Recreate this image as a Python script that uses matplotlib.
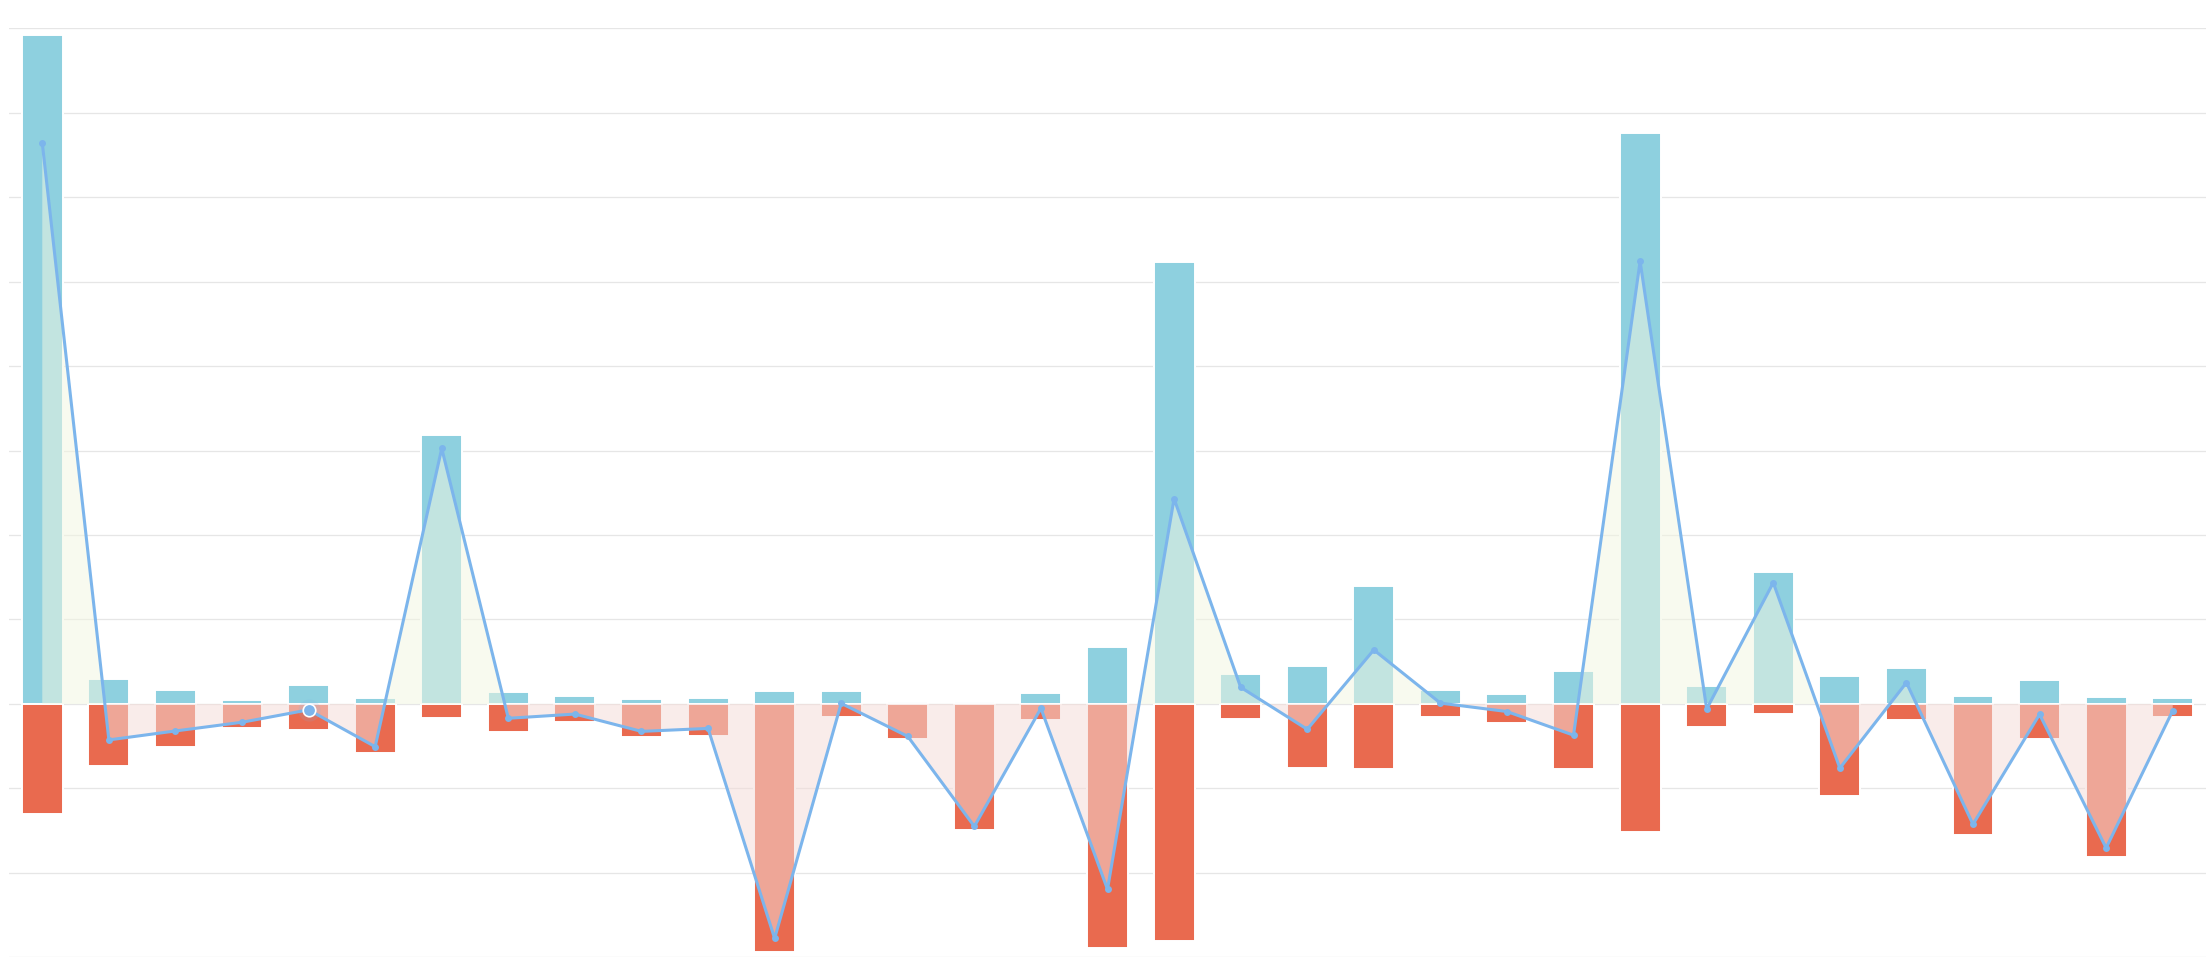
import numpy as np
import matplotlib
matplotlib.use("Agg")
from matplotlib import pyplot as plt

# values (grid step = 100)
categories = [f"P{i}" for i in range(1, 34)]
inflow = [792, 30, 17, 5, 22, 7.5, 319, 14.6, 9, 6, 7.5, 15.7, 15.7, 2.7, 2.7, 13.4,
          67.8, 523.7, 35.9, 45.4, 140, 16, 12, 38.8, 676, 21.2, 156.4, 33, 42.5,
          9.8, 28.8, 8.6, 7.5]
outflow = [-130, -73, -50.6, -28, -30.4, -58.5, -17, -33.6, -21, -39, -38, -294,
           -15.8, -42, -149.6, -19.4, -289.4, -281, -17.5, -76, -77, -16, -22, -77,
           -152, -27.5, -12.5, -109, -19.4, -154.8, -41.9, -181.6, -15.8]
net = [664, -42.6, -32, -21.7, -7, -50.6, 302.5, -17, -12, -32.5, -29, -277.6, 0.7,
       -38.4, -145, -5.2, -219.5, 243, 19.7, -30, 64, 1, -9, -37, 524, -6, 143.6,
       -76, 25.2, -142.5, -12.3, -170.5, -8]
hover_idx = 4

BLUE = '#8ed0df'
RED = '#e96a4f'
LINE = '#7cb5ec'
POS_AREA = '#f2f7e2'
NEG_AREA = '#f4dcd8'

fig = plt.figure(figsize=(22.08, 9.67), dpi=100)
ax = fig.add_axes([9 / 2208, 1 - 957.3 / 967, 2197 / 2208, 929 / 967])

x = np.arange(len(categories))
net_arr = np.array(net, dtype=float)

# grid
ax.set_yticks(np.arange(-300, 801, 100))
ax.yaxis.grid(True, color='#e6e6e6', linewidth=0.9, zorder=0)
ax.set_axisbelow(True)

# bars
ax.bar(x, inflow, width=0.615, color=BLUE, edgecolor='white', linewidth=1.4, zorder=1)
ax.bar(x, outflow, width=0.615, color=RED, edgecolor='white', linewidth=1.4, zorder=1)

# net area, split at zero
ax.fill_between(x, net_arr, 0, where=net_arr >= 0, interpolate=True,
                color=POS_AREA, alpha=0.53, linewidth=0, zorder=2)
ax.fill_between(x, net_arr, 0, where=net_arr <= 0, interpolate=True,
                color=NEG_AREA, alpha=0.53, linewidth=0, zorder=2)

# net line
ax.plot(x, net_arr, color=LINE, linewidth=2.2, marker='o', markersize=5,
        markeredgewidth=0, zorder=3)
ax.plot(x[hover_idx], net_arr[hover_idx], 'o', color=LINE, markersize=16,
        alpha=0.15, markeredgewidth=0, zorder=3)
ax.plot(x[hover_idx], net_arr[hover_idx], 'o', color=LINE, markersize=9,
        markeredgecolor='white', markeredgewidth=1.2, zorder=4)

ax.set_xlim(-0.5, len(categories) - 0.5)
ax.set_ylim(-300, 800)
ax.set_xticks([])
ax.tick_params(axis='y', length=0, labelleft=False)
for s in ax.spines.values():
    s.set_visible(False)

fig.savefig('out.png', dpi=100, facecolor='white')
